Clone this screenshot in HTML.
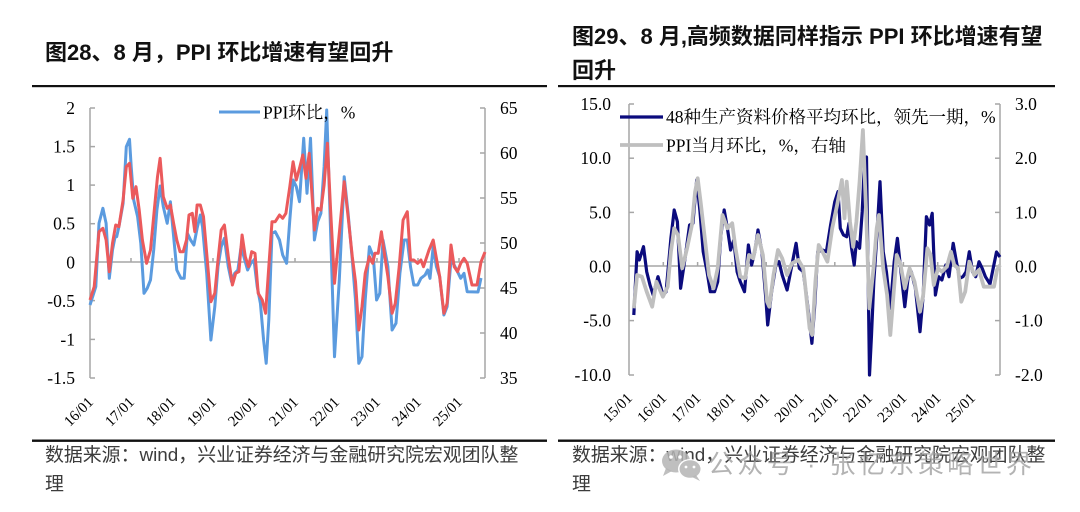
<!DOCTYPE html>
<html>
<head>
<meta charset="utf-8">
<style>
html,body{margin:0;padding:0;background:#fff;}
svg{display:block;}
.t{font-family:"Liberation Sans","Noto Sans CJK SC",sans-serif;font-weight:bold;font-size:22px;fill:#111;}
.s{font-family:"Liberation Sans","Noto Sans CJK SC",sans-serif;font-size:18.9px;fill:#3c3c3c;}
.n{font-family:"Liberation Serif","Noto Serif CJK SC",serif;font-size:17.5px;fill:#000;}
.x{font-family:"Liberation Serif","Noto Serif CJK SC",serif;font-size:15px;fill:#000;}
.lg{font-family:"Liberation Serif","Noto Serif CJK SC",serif;font-size:17.5px;fill:#000;}
.wm{font-family:"Liberation Sans","Noto Sans CJK SC",sans-serif;font-size:26px;letter-spacing:3.4px;fill:#9a9a9a;fill-opacity:0.75;}
</style>
</head>
<body>
<svg width="1080" height="512" viewBox="0 0 1080 512" xmlns="http://www.w3.org/2000/svg">
<rect width="1080" height="512" fill="#fff"/>

<!-- Titles -->
<text class="t" x="45" y="60">图28、8 月，PPI 环比增速有望回升</text>
<text class="t" x="572" y="44">图29、8 月,高频数据同样指示 PPI 环比增速有望</text>
<text class="t" x="572" y="78">回升</text>

<!-- Rules -->
<rect x="32" y="85" width="515" height="2.2" fill="#111"/>
<rect x="558" y="85" width="497" height="2.2" fill="#111"/>
<rect x="32" y="439.5" width="515" height="2.4" fill="#111"/>
<rect x="558" y="439.5" width="497" height="2.4" fill="#111"/>

<!-- Sources -->
<text class="s" x="45" y="461">数据来源：wind，兴业证券经济与金融研究院宏观团队整</text>
<text class="s" x="45" y="490">理</text>
<text class="s" x="572" y="461">数据来源：wind，兴业证券经济与金融研究院宏观团队整</text>
<text class="s" x="572" y="490">理</text>

<!-- ============ LEFT CHART ============ -->
<g stroke="#a6a6a6" stroke-width="1.5" fill="none">
  <line x1="90" y1="108" x2="90" y2="378"/>
  <line x1="485" y1="108" x2="485" y2="378"/>
  <line x1="90" y1="262" x2="485" y2="262"/>
  <line x1="90" y1="108" x2="95" y2="108"/>
  <line x1="90" y1="146.6" x2="95" y2="146.6"/>
  <line x1="90" y1="185.1" x2="95" y2="185.1"/>
  <line x1="90" y1="223.7" x2="95" y2="223.7"/>
  <line x1="90" y1="300.6" x2="95" y2="300.6"/>
  <line x1="90" y1="339.4" x2="95" y2="339.4"/>
  <line x1="90" y1="378" x2="95" y2="378"/>
  <line x1="480" y1="108" x2="485" y2="108"/>
  <line x1="480" y1="153" x2="485" y2="153"/>
  <line x1="480" y1="198" x2="485" y2="198"/>
  <line x1="480" y1="243" x2="485" y2="243"/>
  <line x1="480" y1="288" x2="485" y2="288"/>
  <line x1="480" y1="333" x2="485" y2="333"/>
  <line x1="480" y1="378" x2="485" y2="378"/>
  <line x1="131" y1="262" x2="131" y2="258"/>
  <line x1="172" y1="262" x2="172" y2="258"/>
  <line x1="213" y1="262" x2="213" y2="258"/>
  <line x1="254" y1="262" x2="254" y2="258"/>
  <line x1="295" y1="262" x2="295" y2="258"/>
  <line x1="336" y1="262" x2="336" y2="258"/>
  <line x1="377" y1="262" x2="377" y2="258"/>
  <line x1="418" y1="262" x2="418" y2="258"/>
  <line x1="459" y1="262" x2="459" y2="258"/>
</g>
<g class="n" text-anchor="end">
  <text x="75" y="114">2</text>
  <text x="75" y="152.6">1.5</text>
  <text x="75" y="191.1">1</text>
  <text x="75" y="229.7">0.5</text>
  <text x="75" y="268.3">0</text>
  <text x="75" y="306.9">-0.5</text>
  <text x="75" y="345.4">-1</text>
  <text x="75" y="384">-1.5</text>
</g>
<g class="n">
  <text x="500" y="114">65</text>
  <text x="500" y="159">60</text>
  <text x="500" y="204">55</text>
  <text x="500" y="249">50</text>
  <text x="500" y="294">45</text>
  <text x="500" y="339">40</text>
  <text x="500" y="384">35</text>
</g>
<g class="x" text-anchor="end">
  <text transform="translate(94,403) rotate(-45)">16/01</text>
  <text transform="translate(135,403) rotate(-45)">17/01</text>
  <text transform="translate(176,403) rotate(-45)">18/01</text>
  <text transform="translate(217,403) rotate(-45)">19/01</text>
  <text transform="translate(258,403) rotate(-45)">20/01</text>
  <text transform="translate(299,403) rotate(-45)">21/01</text>
  <text transform="translate(340,403) rotate(-45)">22/01</text>
  <text transform="translate(381,403) rotate(-45)">23/01</text>
  <text transform="translate(422,403) rotate(-45)">24/01</text>
  <text transform="translate(463,403) rotate(-45)">25/01</text>
</g>

<polyline fill="none" stroke="#5b9bdf" stroke-width="3" stroke-linejoin="round" points="90,305 95.8,286.7 99,223.3 102.9,208.3 106.1,223.3 109.3,278.3 112.5,250 115.1,236.7 116.7,236.7 118.9,226.7 123.1,203.3 126.3,146.7 129.5,139.3 131.2,166.7 133.7,200 137.6,216.7 140.8,243.3 144,293.3 147.2,288.3 150.5,280 153.7,250 156.9,210 160.1,186 163.3,206.7 167.2,223.3 170.4,201.7 173,230 176.8,270 181,278.3 184.2,278.3 187.4,233.3 190.6,240 193.9,245 197.1,228.3 200.3,215 202.5,226.7 206.7,273.3 210.9,340 214.8,306.7 218,266.7 221.2,246.7 224.4,238.3 228.3,266.7 231.5,281.7 234.7,273.3 237.9,270 241.1,246.7 244.3,258.3 247.6,270 250.8,263.3 254,260 257.2,286.7 260.4,303.3 263.6,340 266.2,363.3 268.8,320 272,233.3 275.2,231.7 279.5,240 282.7,255 286.6,263.3 289.8,220 293.1,180 296.3,186.7 299.5,201.7 303.7,138.3 307,193.3 310.5,138.3 314.4,240 317.7,221.7 320.9,213.3 324.1,166.7 326.7,110 329.6,200 334.5,356.7 339.3,280 344.2,176.7 348.1,213.3 352.3,260 355.5,300 358.8,363.3 362,356.7 365.2,300 369.4,246.7 373.3,256.7 376.6,300 379.8,293.3 383,240 387.9,266.7 392.1,330 396,323.3 399.9,273.3 404.1,240 407.3,240 410.5,266.7 413.8,285 417.7,285 420.9,278.3 425.1,275 427.7,270 430,278.3 433.2,246.7 436.4,266.7 439.7,276.7 443.9,315 447.1,306.7 451,260 454.2,265 457.5,271.7 460.7,278.3 464,273.3 467.2,291.7 478,292 481,278"/>
<polyline fill="none" stroke="#eb5a5c" stroke-width="3" stroke-linejoin="round" points="90,300 94.2,286.7 99,231.7 102.9,228.3 106.1,240 109.3,271.7 112.5,243.3 115.7,225 118.9,226.7 123.1,200 126.3,166.7 129.5,163.3 132.8,198.3 136,186.7 139.2,210 142.4,240 146.6,263.3 150.5,250 154.3,210 157.5,176.7 160.1,158.3 163.3,196.7 167.2,208.3 170.4,205 173.6,223.3 176.8,240 180,251.7 183.2,251.7 186.5,240 189,215 192.3,213.3 194.8,231.7 197.1,205 200.3,205 203.5,216.7 206.7,253.3 210.9,301.7 214.8,293.3 218,260 221.2,230 224.4,225 228.3,256.7 232.4,285 235.7,273.3 238.9,271.7 242.1,235 245.3,256.7 248.5,266.7 251.7,251.7 255,253.3 258.2,293.3 262.3,300 265.6,313.3 268.8,266.7 272,221.7 275.2,221.7 279.5,215 282.7,218.3 285.9,213.3 289.8,186.7 293.1,161.7 296.3,180 299.5,168.3 302.8,155 306,178.3 309.2,153.3 314.4,230 317.7,208.3 320.9,210 324.1,185 327.4,143.3 330.6,210 334.5,283.3 339.3,233.3 344.2,181.7 348.1,216.7 352.3,256.7 355.5,281.7 358.8,330 362,306.7 365.2,273.3 369.4,256.7 372.7,263.3 374.9,253.3 378.2,253.3 381.4,231.7 384.6,255 387.9,276.7 392.1,313.3 395.3,303.3 399.2,266.7 403.1,220 407.3,211.7 410.5,260 413.8,260 417.7,263.3 420.9,260 423.5,266.7 425.7,260 429,250 433.2,240 436.4,258.3 439.7,276.7 443.9,313.3 447.1,303.3 451,245 454.2,266.7 457.5,271.7 460.7,263.3 464,258.3 467.2,263.3 472,285 477,285 481,262 485,252"/>

<line x1="219" y1="112" x2="260" y2="112" stroke="#5b9bdf" stroke-width="3"/>
<text class="lg" x="263" y="118.5">PPI环比，%</text>

<!-- ============ RIGHT CHART ============ -->
<g stroke="#a6a6a6" stroke-width="1.5" fill="none">
  <line x1="629" y1="104" x2="629" y2="375"/>
  <line x1="1000" y1="104" x2="1000" y2="375"/>
  <line x1="629" y1="266" x2="1000" y2="266"/>
  <line x1="629" y1="104" x2="634" y2="104"/>
  <line x1="629" y1="158.2" x2="634" y2="158.2"/>
  <line x1="629" y1="212.4" x2="634" y2="212.4"/>
  <line x1="629" y1="320.6" x2="634" y2="320.6"/>
  <line x1="629" y1="375" x2="634" y2="375"/>
  <line x1="995" y1="104" x2="1000" y2="104"/>
  <line x1="995" y1="158.2" x2="1000" y2="158.2"/>
  <line x1="995" y1="212.4" x2="1000" y2="212.4"/>
  <line x1="995" y1="320.6" x2="1000" y2="320.6"/>
  <line x1="995" y1="375" x2="1000" y2="375"/>
  <line x1="663.3" y1="266" x2="663.3" y2="262"/>
  <line x1="697.6" y1="266" x2="697.6" y2="262"/>
  <line x1="731.9" y1="266" x2="731.9" y2="262"/>
  <line x1="766.2" y1="266" x2="766.2" y2="262"/>
  <line x1="800.5" y1="266" x2="800.5" y2="262"/>
  <line x1="834.8" y1="266" x2="834.8" y2="262"/>
  <line x1="869.1" y1="266" x2="869.1" y2="262"/>
  <line x1="903.4" y1="266" x2="903.4" y2="262"/>
  <line x1="937.7" y1="266" x2="937.7" y2="262"/>
  <line x1="972" y1="266" x2="972" y2="262"/>
</g>
<g class="n" text-anchor="end">
  <text x="611" y="110">15.0</text>
  <text x="611" y="164.2">10.0</text>
  <text x="611" y="218.4">5.0</text>
  <text x="611" y="272.4">0.0</text>
  <text x="611" y="326.6">-5.0</text>
  <text x="611" y="381">-10.0</text>
</g>
<g class="n">
  <text x="1015" y="110">3.0</text>
  <text x="1015" y="164.2">2.0</text>
  <text x="1015" y="218.4">1.0</text>
  <text x="1015" y="272.4">0.0</text>
  <text x="1015" y="326.6">-1.0</text>
  <text x="1015" y="381">-2.0</text>
</g>
<g class="x" text-anchor="end">
  <text transform="translate(633,399) rotate(-45)">15/01</text>
  <text transform="translate(667.3,399) rotate(-45)">16/01</text>
  <text transform="translate(701.6,399) rotate(-45)">17/01</text>
  <text transform="translate(735.9,399) rotate(-45)">18/01</text>
  <text transform="translate(770.2,399) rotate(-45)">19/01</text>
  <text transform="translate(804.5,399) rotate(-45)">20/01</text>
  <text transform="translate(838.8,399) rotate(-45)">21/01</text>
  <text transform="translate(873.1,399) rotate(-45)">22/01</text>
  <text transform="translate(907.4,399) rotate(-45)">23/01</text>
  <text transform="translate(941.7,399) rotate(-45)">24/01</text>
  <text transform="translate(976,399) rotate(-45)">25/01</text>
</g>

<polyline fill="none" stroke="#0b0b7d" stroke-width="3.2" stroke-linejoin="round" points="633.8,315 637.1,251.7 639.3,260 643.5,246.7 646.7,271.7 650,285 653.2,295 658,276.7 662.9,295 666.1,291.7 670.9,238.3 674.2,210 677.4,221.7 680.6,288.3 685.5,255 689.6,225 692.9,223.3 696.7,180 700,211.7 703.2,251.7 707.1,271.7 710.3,291.7 714.5,291.7 717.7,281.7 720.9,235 724.2,210 727.4,228.3 730.6,250 733.8,240 737.1,271.7 740.3,281.7 744.5,291.7 748.4,245 751.6,265 754.8,251.7 758,230 761.9,251.7 766.1,301.7 767.7,325 771.6,291.7 775.8,265 779,261.7 782.2,275 787.1,290 791.9,265 796.1,243.3 799.3,268.3 803.2,271.7 806.4,295 809.6,321.7 811.9,343.3 814.5,308.3 817.7,251.7 822.5,250 826.4,251.7 830.6,225 834.8,201.7 838,191.7 840.3,228.3 843.5,235 846.7,236.7 849,223.3 851.6,248.3 854.2,265 856.4,241.7 859.6,248.3 862.2,211.7 864.5,161.7 866.5,157 869.5,375 871.5,335 873.8,281.7 876.7,238.3 880,181.7 883.2,251.7 886.4,271.7 890.3,308.3 894.2,261.7 897.4,238.3 900.6,268.3 904.8,306.7 908,278.3 911.3,271.7 915.4,288.3 920,331.7 923.2,295 926.4,216.7 929.6,225 932.2,213.3 935.4,295 938.7,276.7 941.9,280 945.8,265 949,276.7 953.2,243.3 956.4,261.7 959.6,278.3 962.9,276.7 966.1,271.7 969.3,251.7 972.5,271.7 975.7,276.7 979,261.7 982.2,268.3 985.4,276.7 990,284 996.5,252 1000,257"/>
<polyline fill="none" stroke="#bfbfbf" stroke-width="3.8" stroke-linejoin="round" points="633.8,308.3 637.1,275 641.9,276.7 646.7,291.7 652.2,306.7 656.4,281.7 662.9,296.7 667.7,286.7 670.9,251.7 674.2,228.3 678,235 682.2,268.3 687.1,248.3 691.9,225 695.1,191.7 697.7,178.3 700.6,201.7 704.8,238.3 709,275 713.5,288.3 717.7,268.3 722.5,215 727.4,228.3 732.2,223.3 735.5,248.3 740.3,276.7 745.1,278.3 749,255 753.2,258.3 758,235 762.9,255 767.1,301.7 769.3,306.7 773.5,275 778,250 782.2,258.3 787.1,275 791.9,263.3 798.4,260 803.2,268.3 804.8,281.7 809.6,328.3 812.2,335 815.4,281.7 818.7,245 822.5,251.7 827.4,261.7 832.2,228.3 837.1,205 841.9,180 844.5,218.3 846.7,181.7 850,221.7 853.2,246.7 856.4,221.7 859.6,181.7 862.9,130 866.1,211.7 869.3,308.3 873.5,268.3 876.7,228.3 879,215 883.2,268.3 887.1,295 890.3,335 893.5,295 896.7,255 900.6,265 904.8,288.3 909.6,268.3 914.5,281.7 920,311.7 923.2,295 927.4,248.3 930.6,255 933.8,285 938,268.3 941.9,271.7 946.8,266.7 951,251.7 954.2,265 958.1,268.3 961.3,301.7 965.2,291.7 969.3,261.7 974.2,275 979,270 983.8,286.7 988.7,286.7 994,286.7 997,270 1000,265"/>

<line x1="620" y1="117" x2="663" y2="117" stroke="#0b0b7d" stroke-width="3.2"/>
<text class="lg" x="666" y="123">48种生产资料价格平均环比，领先一期，%</text>
<line x1="620" y1="145" x2="663" y2="145" stroke="#bfbfbf" stroke-width="3.8"/>
<text class="lg" x="666" y="151.5">PPI当月环比，%，右轴</text>

<!-- watermark -->
<g fill="#b4b4b4" fill-opacity="0.85">
  <ellipse cx="676" cy="461" rx="14" ry="11.5"/>
  <path d="M666 468 L663 476 L672 471 Z"/>
</g>
<ellipse cx="690" cy="469" rx="12" ry="10" fill="#fff"/>
<g fill="#b4b4b4" fill-opacity="0.85">
  <ellipse cx="690" cy="469" rx="10.5" ry="8.8"/>
  <path d="M696 475 L700 481 L692 477 Z"/>
</g>
<g fill="#fff">
  <circle cx="671" cy="457" r="1.8"/>
  <circle cx="680" cy="457" r="1.8"/>
  <circle cx="686" cy="467" r="1.4"/>
  <circle cx="694" cy="467" r="1.4"/>
</g>
<text class="wm" x="708" y="473">公众号 · 张忆东策略世界</text>
</svg>
</body>
</html>
